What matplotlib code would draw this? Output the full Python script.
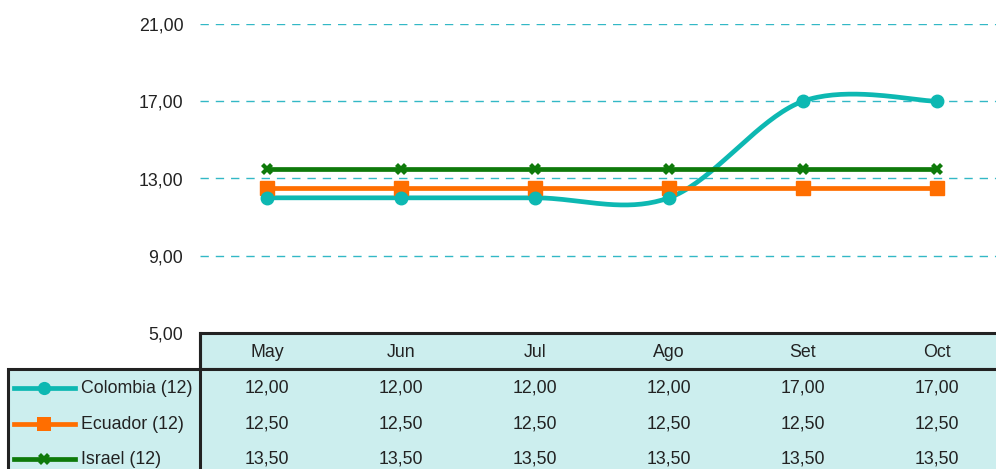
import numpy as np
import matplotlib.pyplot as plt
from matplotlib.patches import Rectangle
from matplotlib.lines import Line2D
import matplotlib.transforms as mtransforms

months = ['May', 'Jun', 'Jul', 'Ago', 'Set', 'Oct']
series_names = ['Colombia (12)', 'Ecuador (12)', 'Israel (12)']
colombia = [12.0, 12.0, 12.0, 12.0, 17.0, 17.0]
ecuador = [12.5, 12.5, 12.5, 12.5, 12.5, 12.5]
israel = [13.5, 13.5, 13.5, 13.5, 13.5, 13.5]
y_ticks = [5, 9, 13, 17, 21]

TEAL = '#0DB8B2'
ORANGE = '#FF6E00'
GREEN = '#0E7A0A'
GRID = '#33B8C6'
TABLE_BG = '#CCEEEE'
BORDER = '#222222'
FS = 12.8

plt.rcParams['font.family'] = ['Liberation Sans', 'DejaVu Sans']


def fmt(v):
    return f'{v:.2f}'.replace('.', ',')


def excel_smooth(xs, ys, n=40):
    # bezier smoothing like excel (catmull-rom style control points)
    xs = np.asarray(xs, dtype=float)
    ys = np.asarray(ys, dtype=float)
    px, py = [], []
    for i in range(len(xs) - 1):
        i0 = max(i - 1, 0)
        i3 = min(i + 2, len(xs) - 1)
        p0 = np.array([xs[i], ys[i]])
        p3 = np.array([xs[i + 1], ys[i + 1]])
        c1 = p0 + (np.array([xs[i + 1], ys[i + 1]]) - np.array([xs[i0], ys[i0]])) / 6
        c2 = p3 - (np.array([xs[i3], ys[i3]]) - np.array([xs[i], ys[i]])) / 6
        t = np.linspace(0, 1, n)[:, None]
        pts = ((1 - t) ** 3) * p0 + 3 * ((1 - t) ** 2) * t * c1 + 3 * (1 - t) * t ** 2 * c2 + t ** 3 * p3
        px.extend(pts[:, 0])
        py.extend(pts[:, 1])
    return px, py


W, H = 996, 469
fig = plt.figure(figsize=(W / 100, H / 100), dpi=100)


def fx(p):
    return p / W


def fy(p):
    return 1 - p / H


ax = fig.add_axes([fx(200), fy(333), fx(1004 - 200), fy(24) - fy(333)])
x = np.arange(len(months))
ax.set_xlim(-0.5, len(months) - 0.5)
ax.set_ylim(5, 21)
ax.set_yticks(y_ticks)
ax.set_yticklabels([fmt(v) for v in y_ticks], fontsize=FS, color='#222222')
ax.tick_params(axis='y', length=0, pad=12)
ax.set_xticks([])
for s in ax.spines.values():
    s.set_visible(False)
for v in y_ticks[1:]:
    ax.axhline(v, color=GRID, lw=1, ls=(0, (6, 5)), zorder=1)

sx, sy = excel_smooth(x, colombia)
ax.plot(sx, sy, color=TEAL, lw=3.4, zorder=3, solid_capstyle='round')
ax.plot(x, colombia, 'o', color=TEAL, ms=9, zorder=4, clip_on=False)
ax.plot(x, ecuador, '-s', color=ORANGE, lw=3.4, ms=9.5, zorder=3, clip_on=False)
ax.plot(x, israel, '-X', color=GREEN, lw=3.4, ms=8.5, mew=0, zorder=3, clip_on=False)

# data table under the chart
header_top, header_bot = 333, 369
fig.patches.append(Rectangle((fx(200), fy(header_bot)), fx(W - 200 + 10), fy(header_top) - fy(header_bot),
                             transform=fig.transFigure, facecolor=TABLE_BG, edgecolor=BORDER, lw=2.2))
fig.patches.append(Rectangle((fx(8), fy(H + 10)), fx(W - 8 + 10), fy(header_bot) - fy(H + 10),
                             transform=fig.transFigure, facecolor=TABLE_BG, edgecolor=BORDER, lw=2.2))
fig.add_artist(Line2D([fx(200), fx(200)], [fy(header_top), fy(H + 10)], color=BORDER, lw=2.2,
                      transform=fig.transFigure))

trans = mtransforms.blended_transform_factory(ax.transData, fig.transFigure)
for i, m in enumerate(months):
    fig.text(i, fy(352), m, transform=trans, ha='center', va='center', fontsize=FS, color='#222222')

row_y = [388, 424, 459]
all_vals = [colombia, ecuador, israel]
colors = [TEAL, ORANGE, GREEN]
markers = ['o', 's', 'X']
msizes = [9.5, 9.5, 8]
for r, (name, vals, c, mk, msz) in enumerate(zip(series_names, all_vals, colors, markers, msizes)):
    yy = fy(row_y[r])
    fig.add_artist(Line2D([fx(14), fx(75)], [yy, yy], color=c, lw=3.4, transform=fig.transFigure))
    fig.add_artist(Line2D([fx(44)], [yy], color=c, marker=mk, ms=msz, mew=0,
                          transform=fig.transFigure))
    fig.text(fx(81), yy, name, ha='left', va='center', fontsize=FS, color='#222222')
    for i, v in enumerate(vals):
        fig.text(i, yy, fmt(v), transform=trans, ha='center', va='center', fontsize=FS,
                 color='#222222')

fig.savefig('out.png', dpi=100)
